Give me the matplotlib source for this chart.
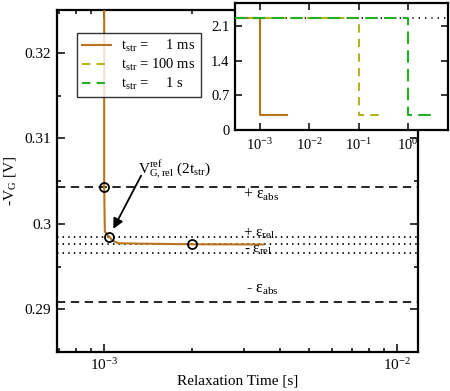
import matplotlib
matplotlib.use("Agg")
import matplotlib.pyplot as plt
from matplotlib.ticker import FixedLocator, FixedFormatter, LogLocator, NullFormatter, NullLocator

plt.rcParams['font.family'] = ['Liberation Serif', 'DejaVu Serif']
plt.rcParams['mathtext.fontset'] = 'custom'
plt.rcParams['mathtext.rm'] = 'Liberation Serif'
plt.rcParams['mathtext.it'] = 'Liberation Serif:italic'
plt.rcParams['mathtext.default'] = 'rm'
plt.rcParams['font.size'] = 11

# ---------------- data ----------------
# main panel: relaxation of -V_G after 1 ms stress
relax_t = [1e-3, 1e-3, 1.005e-3, 1.02e-3, 1.04e-3, 1.07e-3, 1.12e-3, 1.3e-3, 2e-3, 3.5e-3]
relax_vg = [0.33, 0.3043, 0.2991, 0.2988, 0.2985, 0.2980, 0.29772, 0.29768, 0.2976, 0.29758]
marker_t = [1e-3, 1.035e-3, 2e-3]
marker_vg = [0.3043, 0.2985, 0.2976]
eps_abs_levels = [0.3043, 0.2909]
eps_rel_levels = [0.2985, 0.2976, 0.2966]

main_xticks = [1e-3, 1e-2]
main_xticklabels = [r"10$^{-3}$", r"10$^{-2}$"]
main_yticks = [0.29, 0.30, 0.31, 0.32]
main_yticklabels = ["0.29", "0.3", "0.31", "0.32"]
main_yminor = [0.285, 0.295, 0.305, 0.315, 0.325]

# inset: full stress/relax sequences
t_1ms = [3e-4, 1e-3, 1e-3, 3.5e-3]
v_1ms = [2.25, 2.25, 0.3, 0.3]
t_100ms = [3e-4, 1e-1, 1e-1, 3.5e-1]
v_100ms = [2.25, 2.25, 0.3, 0.3]
t_1s = [3e-4, 1.0, 1.0, 3.5]
v_1s = [2.25, 2.25, 0.3, 0.3]
stress_level = 2.25

inset_xticks = [1e-3, 1e-2, 1e-1, 1e0]
inset_xticklabels = [r"10$^{-3}$", r"10$^{-2}$", r"10$^{-1}$", r"10$^{0}$"]
inset_yticks = [0, 0.7, 1.4, 2.1]
inset_yticklabels = ["0", "0.7", "1.4", "2.1"]

labels = [r"$t_{str}$ =     1 ms", r"$t_{str}$ = 100 ms", r"$t_{str}$ =     1 s"]
c_1ms = "#b8741e"
c_100ms = "#b4b41e"
c_1s = "#22b022"

# ---------------- figure ----------------
fig = plt.figure(figsize=(4.5, 3.91), dpi=100)
ax = fig.add_axes([0.1267, 0.0997, 0.8022, 0.8747])

for lv in eps_abs_levels:
    ax.axhline(lv, color='black', lw=1.2, dashes=(5, 3.3), zorder=1)
for lv in eps_rel_levels:
    ax.axhline(lv, color='black', lw=1.3, dashes=(0.8, 2.3), zorder=1)

l1, = ax.plot(relax_t, relax_vg, color=c_1ms, lw=1.5, zorder=3)
ax.plot(marker_t, marker_vg, ls='none', marker='o', ms=6.5, mfc='none',
        mec='black', mew=1.3, zorder=4)
# legend proxies
l2, = ax.plot([], [], color=c_100ms, lw=1.5, dashes=(4, 3))
l3, = ax.plot([], [], color=c_1s, lw=1.5, dashes=(4, 3))

ax.set_xscale('log')
ax.set_xlim(6.9e-4, 1.18e-2)
ax.set_ylim(0.285, 0.325)

ax.xaxis.set_major_locator(FixedLocator(main_xticks))
ax.xaxis.set_major_formatter(FixedFormatter(main_xticklabels))
ax.xaxis.set_minor_locator(LogLocator(base=10, subs=[2, 3, 4, 5, 6, 7, 8, 9]))
ax.xaxis.set_minor_formatter(NullFormatter())
ax.yaxis.set_major_locator(FixedLocator(main_yticks))
ax.yaxis.set_major_formatter(FixedFormatter(main_yticklabels))
ax.yaxis.set_minor_locator(FixedLocator(main_yminor))

ax.tick_params(which='both', direction='in', top=True, right=True, width=1.1)
ax.tick_params(which='major', length=6, labelsize=11, pad=4)
ax.tick_params(which='minor', length=3)
for s in ax.spines.values():
    s.set_linewidth(1.6)

ax.set_xlabel("Relaxation Time [s]", fontsize=11, labelpad=1)
ax.set_ylabel(r"-V$_{G}$ [V]", fontsize=11, labelpad=5)

leg = ax.legend([l1, l2, l3], labels, loc='upper left', bbox_to_anchor=(0.0554, 0.9327),
                borderaxespad=0, frameon=True, fancybox=False, fontsize=10.5,
                handlelength=2.0, handletextpad=0.7, labelspacing=0.2, borderpad=0.35)
leg.get_frame().set_edgecolor('black')
leg.get_frame().set_linewidth(1.0)

# annotations
ax.text(1.306e-3, 0.30586, r"$V^{ref}_{G,rel}$ (2$t_{str}$)", fontsize=11, ha='left', va='baseline')
ax.annotate("", xy=(1.074e-3, 0.29941), xytext=(1.337e-3, 0.30563),
            arrowprops=dict(arrowstyle='-|>', color='black', lw=1.3,
                            mutation_scale=15, shrinkA=0, shrinkB=0))
ax.text(2.98e-3, 0.30293, r"+ ε$_{abs}$", fontsize=11.5, va='baseline')
ax.text(2.98e-3, 0.29850, r"+ ε$_{rel}$", fontsize=11, va='baseline')
ax.text(3.0e-3, 0.29660, r"- ε$_{rel}$", fontsize=11, va='baseline')
ax.text(3.05e-3, 0.29191, r"- ε$_{abs}$", fontsize=11.5, va='baseline')

# inset
ins = fig.add_axes([0.522, 0.6675, 0.4736, 0.3248])
ins.set_facecolor('white')
ins.axhline(stress_level, color='black', lw=1.2, dashes=(0.8, 3), zorder=1)
ins.plot(t_1ms, v_1ms, color=c_1ms, lw=1.5, zorder=3)
ins.plot(t_100ms, v_100ms, color=c_100ms, lw=1.5, dashes=(4, 3), zorder=3)
ins.plot(t_1s, v_1s, color=c_1s, lw=1.5, dashes=(6, 3), zorder=3)
ins.set_xscale('log')
ins.set_xlim(3.1e-4, 6.5)
ins.set_ylim(0, 2.56)
ins.xaxis.set_major_locator(FixedLocator(inset_xticks))
ins.xaxis.set_major_formatter(FixedFormatter(inset_xticklabels))
ins.xaxis.set_minor_locator(NullLocator())
ins.yaxis.set_major_locator(FixedLocator(inset_yticks))
ins.yaxis.set_major_formatter(FixedFormatter(inset_yticklabels))
ins.tick_params(which='both', direction='in', top=True, right=True, width=1.1,
                length=5, labelsize=10.5)
ins.tick_params(axis='x', pad=5)
ins.tick_params(axis='y', pad=4)
for s in ins.spines.values():
    s.set_linewidth(1.6)

fig.savefig("out.png", dpi=100)
